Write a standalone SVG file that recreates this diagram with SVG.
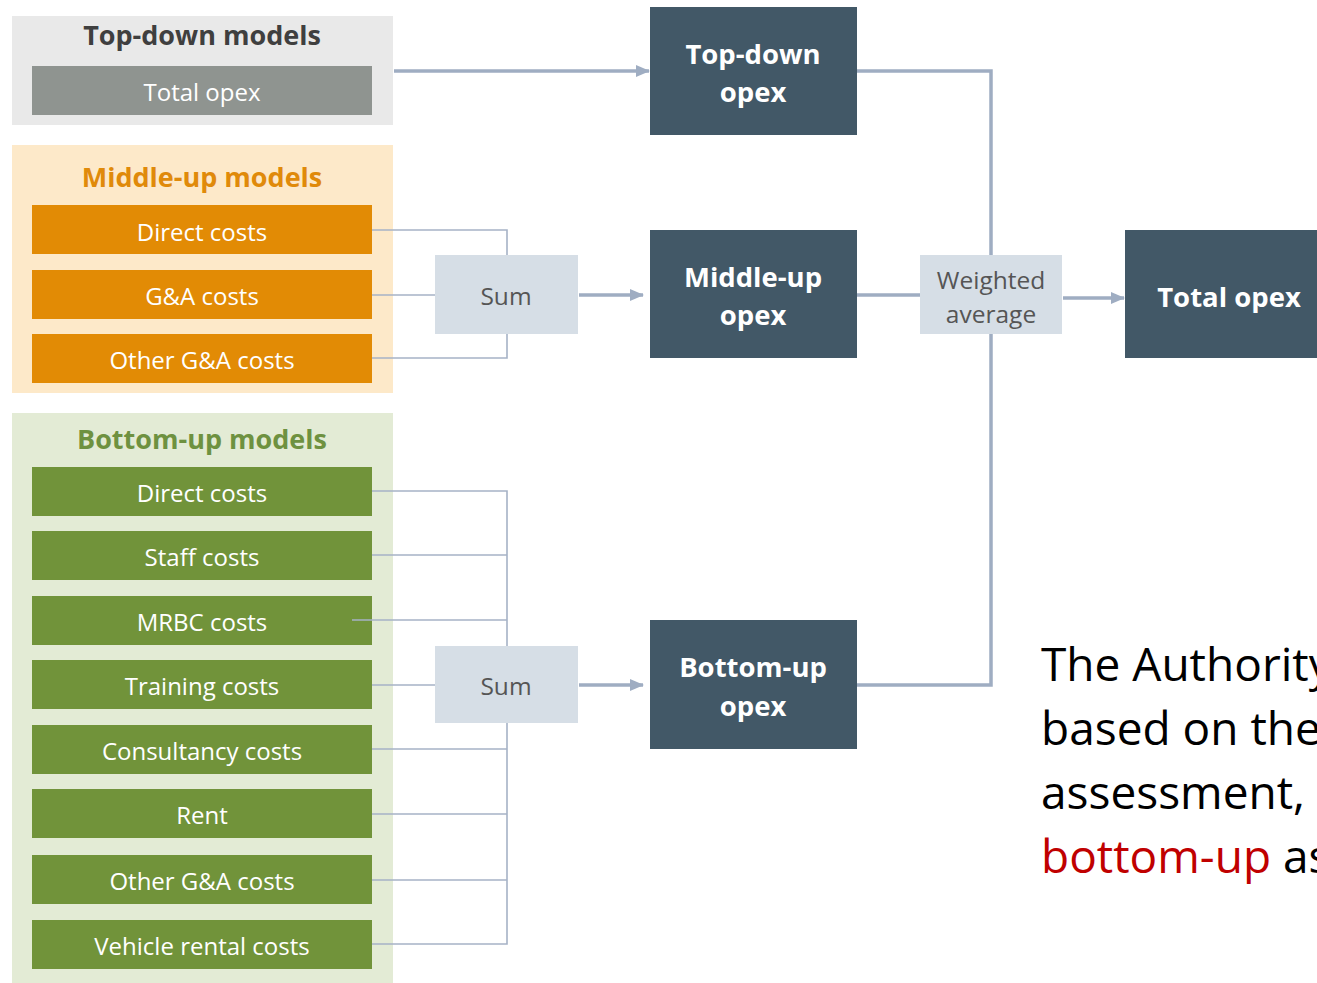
<svg xmlns="http://www.w3.org/2000/svg" width="1317" height="983" viewBox="0 0 1317 983">
<defs>
<marker id="ah" markerUnits="userSpaceOnUse" markerWidth="14" markerHeight="14" viewBox="0 0 14 14" refX="13" refY="7" orient="auto">
<path d="M0,1 L14,7 L0,13 Z" fill="#9fadc2"/>
</marker>
<style>
text{font-family:"Open Sans","Noto Sans","Liberation Sans",sans-serif;text-anchor:middle;dominant-baseline:central}
.gt{font-weight:bold;font-size:27px}
.item{font-size:24px;fill:#ffffff}
.node rect{fill:#425867}
.nt{font-weight:bold;font-size:27.5px;fill:#ffffff}
.op rect{fill:#d6dee6}
.ot{font-size:24.5px;fill:#555555}
.thin{fill:none;stroke:#a6b2c6;stroke-width:1.6}
.thick{fill:none;stroke:#9fadc2;stroke-width:3.5}
.body{font-size:46px;text-anchor:start;dominant-baseline:alphabetic;fill:#000000}
</style>
</defs>

<g id="top-down-models">
<rect x="12" y="16" width="381" height="109" fill="#e9e9e9"/>
<text class="gt" x="202" y="34" fill="#3f3f3f">Top-down models</text>
<rect x="32" y="66" width="340" height="49" fill="#8f9490"/>
<text class="item" x="202" y="91">Total opex</text>
</g>

<g id="middle-up-models">
<rect x="12" y="145" width="381" height="248" fill="#fde9c9"/>
<text class="gt" x="202" y="176" fill="#e08a0a">Middle-up models</text>
<rect x="32" y="205" width="340" height="49" fill="#e28b05"/>
<text class="item" x="202" y="231">Direct costs</text>
<rect x="32" y="270" width="340" height="49" fill="#e28b05"/>
<text class="item" x="202" y="295">G&amp;A costs</text>
<rect x="32" y="334" width="340" height="49" fill="#e28b05"/>
<text class="item" x="202" y="359">Other G&amp;A costs</text>
</g>

<g id="bottom-up-models">
<rect x="12" y="413" width="381" height="570" fill="#e3ebd5"/>
<text class="gt" x="202" y="438" fill="#6e9140">Bottom-up models</text>
<rect x="32" y="467" width="340" height="49" fill="#71933a"/>
<text class="item" x="202" y="492">Direct costs</text>
<rect x="32" y="531" width="340" height="49" fill="#71933a"/>
<text class="item" x="202" y="556">Staff costs</text>
<rect x="32" y="596" width="340" height="49" fill="#71933a"/>
<text class="item" x="202" y="621">MRBC costs</text>
<rect x="32" y="660" width="340" height="49" fill="#71933a"/>
<text class="item" x="202" y="685">Training costs</text>
<rect x="32" y="725" width="340" height="49" fill="#71933a"/>
<text class="item" x="202" y="750">Consultancy costs</text>
<rect x="32" y="789" width="340" height="49" fill="#71933a"/>
<text class="item" x="202" y="814">Rent</text>
<rect x="32" y="855" width="340" height="49" fill="#71933a"/>
<text class="item" x="202" y="880">Other G&amp;A costs</text>
<rect x="32" y="920" width="340" height="49" fill="#71933a"/>
<text class="item" x="202" y="945">Vehicle rental costs</text>
</g>

<g id="connectors">
<path class="thin" d="M372,230 H507 V255"/>
<path class="thin" d="M372,295 H435"/>
<path class="thin" d="M372,358 H507 V334"/>
<path class="thin" d="M372,491 H507 V646"/>
<path class="thin" d="M372,555 H507"/>
<path class="thin" d="M352,620 H507"/>
<path class="thin" d="M372,685 H435"/>
<path class="thin" d="M507,723 V944 H372"/>
<path class="thin" d="M372,749 H507"/>
<path class="thin" d="M372,814 H507"/>
<path class="thin" d="M372,880 H507"/>
<path class="thick" d="M394,71 H649" marker-end="url(#ah)"/>
<path class="thick" d="M579,295 H643" marker-end="url(#ah)"/>
<path class="thick" d="M579,685 H643" marker-end="url(#ah)"/>
<path class="thick" d="M857,71 H991 V255"/>
<path class="thick" d="M857,295 H920"/>
<path class="thick" d="M857,685 H991 V334"/>
<path class="thick" d="M1063,298 H1124" marker-end="url(#ah)"/>
</g>

<g id="sum-middle" class="op">
<rect x="435" y="255" width="143" height="79"/>
<text class="ot" x="506" y="295">Sum</text>
</g>
<g id="sum-bottom" class="op">
<rect x="435" y="646" width="143" height="77"/>
<text class="ot" x="506" y="685">Sum</text>
</g>

<g id="top-down-opex" class="node">
<rect x="650" y="7" width="207" height="128"/>
<text class="nt" x="753" y="53">Top-down</text>
<text class="nt" x="753" y="91">opex</text>
</g>
<g id="middle-up-opex" class="node">
<rect x="650" y="230" width="207" height="128"/>
<text class="nt" x="753" y="276">Middle-up</text>
<text class="nt" x="753" y="314">opex</text>
</g>
<g id="bottom-up-opex" class="node">
<rect x="650" y="620" width="207" height="129"/>
<text class="nt" x="753" y="666">Bottom-up</text>
<text class="nt" x="753" y="705">opex</text>
</g>

<g id="weighted-average" class="op">
<rect x="920" y="255" width="142" height="79"/>
<text class="ot" x="991" y="279">Weighted</text>
<text class="ot" x="991" y="313">average</text>
</g>

<g id="total-opex" class="node">
<rect x="1125" y="230" width="200" height="128"/>
<text class="nt" x="1229" y="296">Total opex</text>
</g>

<g id="note">
<text class="body" x="1041" y="681">The Authority</text>
<text class="body" x="1041" y="745">based on the</text>
<text class="body" x="1041" y="809">assessment,</text>
<text class="body" x="1041" y="873"><tspan fill="#c00000">bottom-up</tspan> as</text>
</g>
</svg>
